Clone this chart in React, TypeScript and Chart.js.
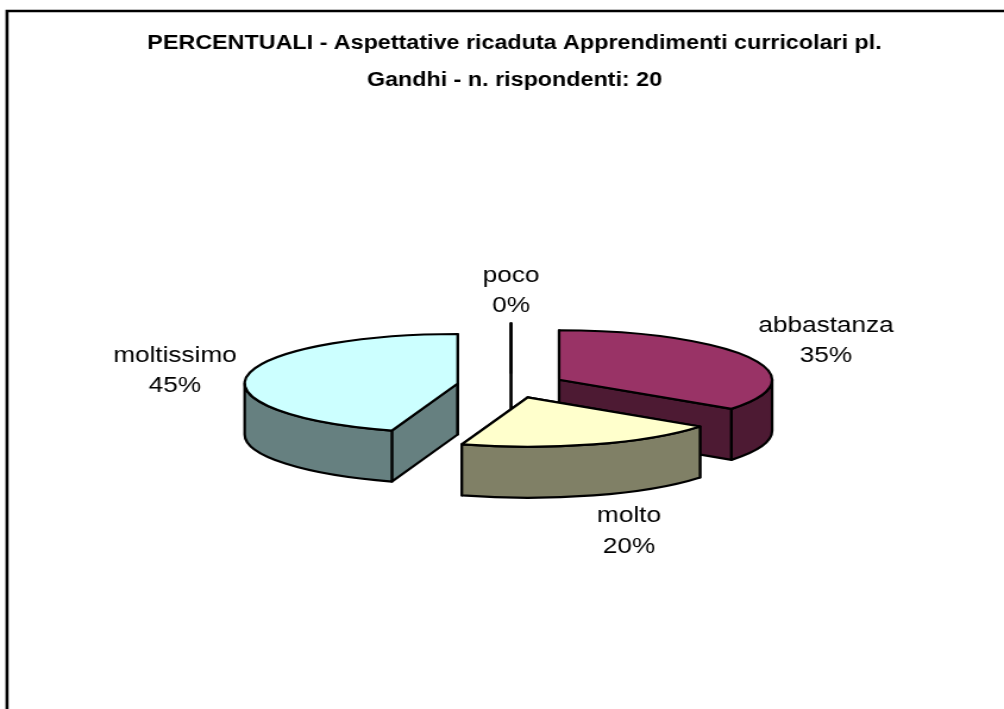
import React, { useEffect, useRef } from "react";
import { Chart, registerables } from "chart.js";

Chart.register(...registerables);

// Data
const categories = ["poco", "abbastanza", "molto", "moltissimo"];
const percentages = [0, 35, 20, 45];
const titleLines = [
  "PERCENTUALI - Aspettative ricaduta Apprendimenti curricolari pl.",
  "Gandhi - n. rispondenti: 20",
];
const topColors = ["#FFFFFF", "#993366", "#FFFFCC", "#CCFFFF"];
const sideColors = ["#808080", "#4D1A33", "#808066", "#668080"];

// Layout: the picture is stretched sideways, as the reference is
const PAGE_W = 1004;
const PAGE_H = 709;
const STRETCH = 1.19;
const CHART_W = Math.round(PAGE_W / STRETCH);
const SX = PAGE_W / CHART_W;
const RADIUS = 213 / SX;
const EXPLODE = 54 / SX;
const TILT = 49.5 / RADIUS;
const DEPTH = 51;
const PIE_CENTER_X = 511 / SX;
const TITLE_CENTER_X = 514.5 / SX;
// label centre x and the baselines of its two lines, in page pixels
const labelAnchors = [
  [511, 282, 312],
  [826, 332, 362],
  [629, 522, 553],
  [175, 362, 392],
];

const pie3d = {
  id: "pie3d",
  beforeDraw(chart: any) {
    const { ctx, width, height } = chart;
    ctx.save();
    ctx.fillStyle = "#FFFFFF";
    ctx.fillRect(0, 0, width, height);
    ctx.strokeStyle = "#000000";
    ctx.lineWidth = 2.6;
    ctx.beginPath();
    ctx.moveTo(7 / SX, height);
    ctx.lineTo(7 / SX, 11);
    ctx.lineTo(width, 11);
    ctx.stroke();
    ctx.restore();
  },
  afterLayout(chart: any) {
    const dx = TITLE_CENTER_X - (chart.titleBlock.left + chart.titleBlock.right) / 2;
    chart.titleBlock.left += dx;
    chart.titleBlock.right += dx;
  },
  beforeDatasetDraw() {
    return false;
  },
  afterDatasetsDraw(chart: any) {
    const { ctx } = chart;
    const arcs = chart.getDatasetMeta(0).data.map((el: any, i: number) => {
      const mid = (el.startAngle + el.endAngle) / 2;
      const off = el.options.offset;
      return {
        i,
        a: el.startAngle,
        b: el.endAngle,
        r: el.outerRadius,
        x: el.x + Math.cos(mid) * off,
        y: el.y + Math.sin(mid) * off * TILT,
      };
    });
    arcs.sort((p: any, q: any) => p.y - q.y);
    ctx.save();
    ctx.lineJoin = "round";
    ctx.lineWidth = 2.2;
    ctx.strokeStyle = "#000000";
    for (const s of arcs) {
      const ry = s.r * TILT;
      const px = (t: number) => s.x + s.r * Math.cos(t);
      const py = (t: number) => s.y + ry * Math.sin(t);
      // flat cut faces
      ctx.fillStyle = sideColors[s.i];
      for (const t of [s.a, s.b]) {
        ctx.beginPath();
        ctx.moveTo(s.x, s.y);
        ctx.lineTo(px(t), py(t));
        ctx.lineTo(px(t), py(t) + DEPTH);
        ctx.lineTo(s.x, s.y + DEPTH);
        ctx.closePath();
        ctx.fill();
        ctx.stroke();
      }
      // front rim
      const from = Math.max(s.a, 0);
      const to = Math.min(s.b, Math.PI);
      if (to > from) {
        ctx.beginPath();
        ctx.ellipse(s.x, s.y, s.r, ry, 0, from, to, false);
        ctx.ellipse(s.x, s.y + DEPTH, s.r, ry, 0, to, from, true);
        ctx.closePath();
        ctx.fill();
        ctx.stroke();
      }
      // top face
      ctx.fillStyle = topColors[s.i];
      ctx.beginPath();
      ctx.moveTo(s.x, s.y);
      ctx.ellipse(s.x, s.y, s.r, ry, 0, s.a, s.b, false);
      ctx.closePath();
      ctx.fill();
      ctx.stroke();
    }
    ctx.fillStyle = "#000000";
    ctx.font = "22px 'Liberation Sans'";
    ctx.textAlign = "center";
    ctx.textBaseline = "alphabetic";
    categories.forEach((name, i) => {
      const [cx, y1, y2] = labelAnchors[i];
      ctx.fillText(name, cx / SX, y1);
      ctx.fillText(`${percentages[i]}%`, cx / SX, y2);
    });
    ctx.restore();
  },
};

export default function App() {
  const ref = useRef<HTMLCanvasElement>(null);
  useEffect(() => {
    const chart = new Chart(ref.current!, {
      type: "pie",
      data: {
        labels: categories,
        datasets: [
          {
            data: percentages,
            backgroundColor: topColors,
            borderColor: "#000000",
            borderWidth: 2,
            offset: EXPLODE,
            radius: RADIUS,
          } as any,
        ],
      },
      options: {
        responsive: false,
        animation: false,
        events: [],
        layout: {
          padding: {
            left: 2 * PIE_CENTER_X - CHART_W,
            right: 0,
            top: 0,
            bottom: 36.6,
          },
        },
        plugins: {
          legend: { display: false },
          tooltip: { enabled: false },
          title: {
            display: true,
            text: titleLines,
            color: "#000000",
            padding: { top: 25.5, bottom: 0 },
            font: { family: "'Liberation Sans'", size: 19.6, weight: "bold", lineHeight: "36.5px" },
          },
        },
      },
      plugins: [pie3d],
    } as any);
    return () => chart.destroy();
  }, []);
  return (
    <div
      style={{
        position: "fixed",
        left: 0,
        top: 0,
        width: CHART_W,
        height: PAGE_H,
        transform: `scaleX(${SX})`,
        transformOrigin: "0 0",
      }}
    >
      <canvas ref={ref} width={CHART_W} height={PAGE_H} />
    </div>
  );
}
